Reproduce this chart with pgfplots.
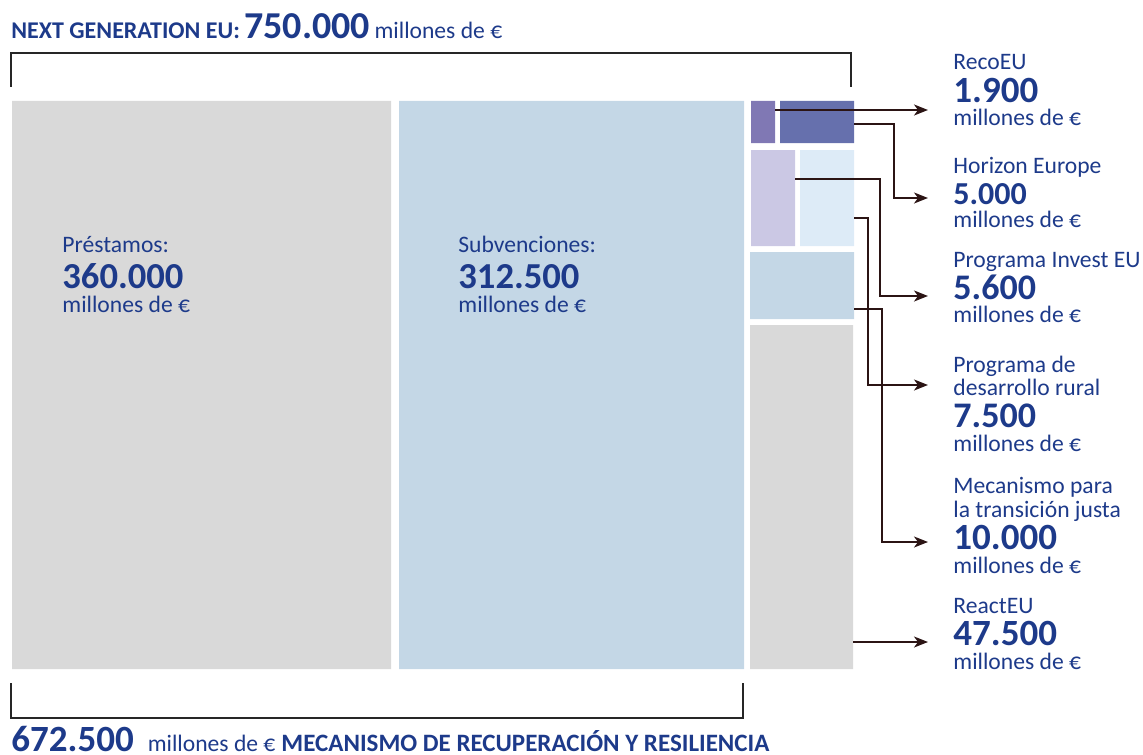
\documentclass[border=0pt]{standalone}
\usepackage{pgfplots}
\pgfplotsset{compat=1.18}
\usepackage{fontspec}
\setmainfont{Carlito}
\usetikzlibrary{arrows.meta}
\definecolor{tblue}{HTML}{1D3A8A}
\definecolor{cgray}{HTML}{D9D9D9}
\definecolor{clblue}{HTML}{C4D7E6}
\definecolor{cpurple}{HTML}{8078B4}
\definecolor{chorizon}{HTML}{6670AD}
\definecolor{clav}{HTML}{CBC8E4}
\definecolor{crural}{HTML}{DDEBF7}
\definecolor{carrow}{HTML}{2B1414}
\newcommand{\lab}[1]{{\fontsize{11.8bp}{13bp}\selectfont\color{tblue}#1}}
\newcommand{\num}[2][18.5bp]{{\fontsize{#1}{20bp}\selectfont\bfseries\color{tblue}#2}}
\begin{document}
\begin{tikzpicture}
\begin{axis}[
  width=571.5bp, height=377.5bp, scale only axis,
  xmin=0, xmax=1143, ymin=0, ymax=755, y dir=reverse,
  hide axis, clip=false,
]
% invisible frame
\addplot[draw=none, forget plot] coordinates {(0,0) (1143,755)};
% big rectangles
\addplot[fill=cgray, draw=none] coordinates {(12,101) (391,101) (391,669) (12,669) (12,101)};
\addplot[fill=clblue, draw=none] coordinates {(399,101) (744,101) (744,669) (399,669) (399,101)};
% small rectangles
\addplot[fill=cpurple, draw=none] coordinates {(751,101) (775,101) (775,143) (751,143) (751,101)};
\addplot[fill=chorizon, draw=none] coordinates {(780,101) (854,101) (854,143) (780,143) (780,101)};
\addplot[fill=clav, draw=none] coordinates {(751,150) (795,150) (795,246) (751,246) (751,150)};
\addplot[fill=crural, draw=none] coordinates {(800,150) (854,150) (854,246) (800,246) (800,150)};
\addplot[fill=clblue, draw=none] coordinates {(750,252) (854,252) (854,319) (750,319) (750,252)};
\addplot[fill=cgray, draw=none] coordinates {(750,325) (853,325) (853,669) (750,669) (750,325)};
% brackets
\addplot[black!85, line width=1.1bp] coordinates {(11,87) (11,53) (851,53) (851,87)};
\addplot[black!85, line width=1.1bp] coordinates {(11,683) (11,718) (743,718) (743,683)};
% arrows
\addplot[carrow, line width=0.8bp, -{Stealth[length=7bp,width=5.5bp,inset=2bp]}] coordinates {(775,110) (928,110)};
\addplot[carrow, line width=0.8bp, -{Stealth[length=7bp,width=5.5bp,inset=2bp]}] coordinates {(854,124) (894,124) (894,198) (928,198)};
\addplot[carrow, line width=0.8bp, -{Stealth[length=7bp,width=5.5bp,inset=2bp]}] coordinates {(795,179) (880,179) (880,296) (928,296)};
\addplot[carrow, line width=0.8bp, -{Stealth[length=7bp,width=5.5bp,inset=2bp]}] coordinates {(854,218) (868,218) (868,385) (928,385)};
\addplot[carrow, line width=0.8bp, -{Stealth[length=7bp,width=5.5bp,inset=2bp]}] coordinates {(854,309) (882,309) (882,542) (928,542)};
\addplot[carrow, line width=0.8bp, -{Stealth[length=7bp,width=5.5bp,inset=2bp]}] coordinates {(853,642) (928,642)};
% title
\node[anchor=base west, inner sep=0pt] at (axis cs:11,39) {{\fontsize{12bp}{13bp}\selectfont\bfseries\color{tblue}NEXT GENERATION EU:} {\fontsize{19bp}{20bp}\selectfont\bfseries\color{tblue}750.000} \lab{millones de €}};
% bottom
\node[anchor=base west, inner sep=0pt] at (axis cs:11,751) {\num{672.500}\hspace{7bp}\lab{millones de €}\hspace{3bp}{\fontsize{12.5bp}{13bp}\selectfont\bfseries\color{tblue}MECANISMO DE RECUPERACIÓN Y RESILIENCIA}};
% inner labels
\node[anchor=base west, inner sep=0pt] at (axis cs:62,252) {\lab{Préstamos:}};
\node[anchor=base west, inner sep=0pt] at (axis cs:62,288) {\num[18.3bp]{360.000}};
\node[anchor=base west, inner sep=0pt] at (axis cs:62,312) {\lab{millones de €}};
\node[anchor=base west, inner sep=0pt] at (axis cs:458,252) {\lab{Subvenciones:}};
\node[anchor=base west, inner sep=0pt] at (axis cs:458,288) {\num[18.3bp]{312.500}};
\node[anchor=base west, inner sep=0pt] at (axis cs:458,312) {\lab{millones de €}};
% right labels
\node[anchor=base west, inner sep=0pt] at (axis cs:953,69) {\lab{RecoEU}};
\node[anchor=base west, inner sep=0pt] at (axis cs:953,102) {\num{1.900}};
\node[anchor=base west, inner sep=0pt] at (axis cs:953,125) {\lab{millones de €}};
\node[anchor=base west, inner sep=0pt] at (axis cs:953,173) {\lab{Horizon Europe}};
\node[anchor=base west, inner sep=0pt] at (axis cs:953,204) {\num[16bp]{5.000}};
\node[anchor=base west, inner sep=0pt] at (axis cs:953,227) {\lab{millones de €}};
\node[anchor=base west, inner sep=0pt] at (axis cs:953,267) {\lab{Programa Invest EU}};
\node[anchor=base west, inner sep=0pt] at (axis cs:953,299) {\num[18bp]{5.600}};
\node[anchor=base west, inner sep=0pt] at (axis cs:953,322) {\lab{millones de €}};
\node[anchor=base west, inner sep=0pt] at (axis cs:953,372) {\lab{Programa de}};
\node[anchor=base west, inner sep=0pt] at (axis cs:953,395) {\lab{desarrollo rural}};
\node[anchor=base west, inner sep=0pt] at (axis cs:953,427) {\num[18bp]{7.500}};
\node[anchor=base west, inner sep=0pt] at (axis cs:953,451) {\lab{millones de €}};
\node[anchor=base west, inner sep=0pt] at (axis cs:953,493) {\lab{Mecanismo para}};
\node[anchor=base west, inner sep=0pt] at (axis cs:953,517) {\lab{la transición justa}};
\node[anchor=base west, inner sep=0pt] at (axis cs:953,549) {\num{10.000}};
\node[anchor=base west, inner sep=0pt] at (axis cs:953,573) {\lab{millones de €}};
\node[anchor=base west, inner sep=0pt] at (axis cs:953,613) {\lab{ReactEU}};
\node[anchor=base west, inner sep=0pt] at (axis cs:953,645) {\num{47.500}};
\node[anchor=base west, inner sep=0pt] at (axis cs:953,669) {\lab{millones de €}};
\end{axis}
\end{tikzpicture}
\end{document}
